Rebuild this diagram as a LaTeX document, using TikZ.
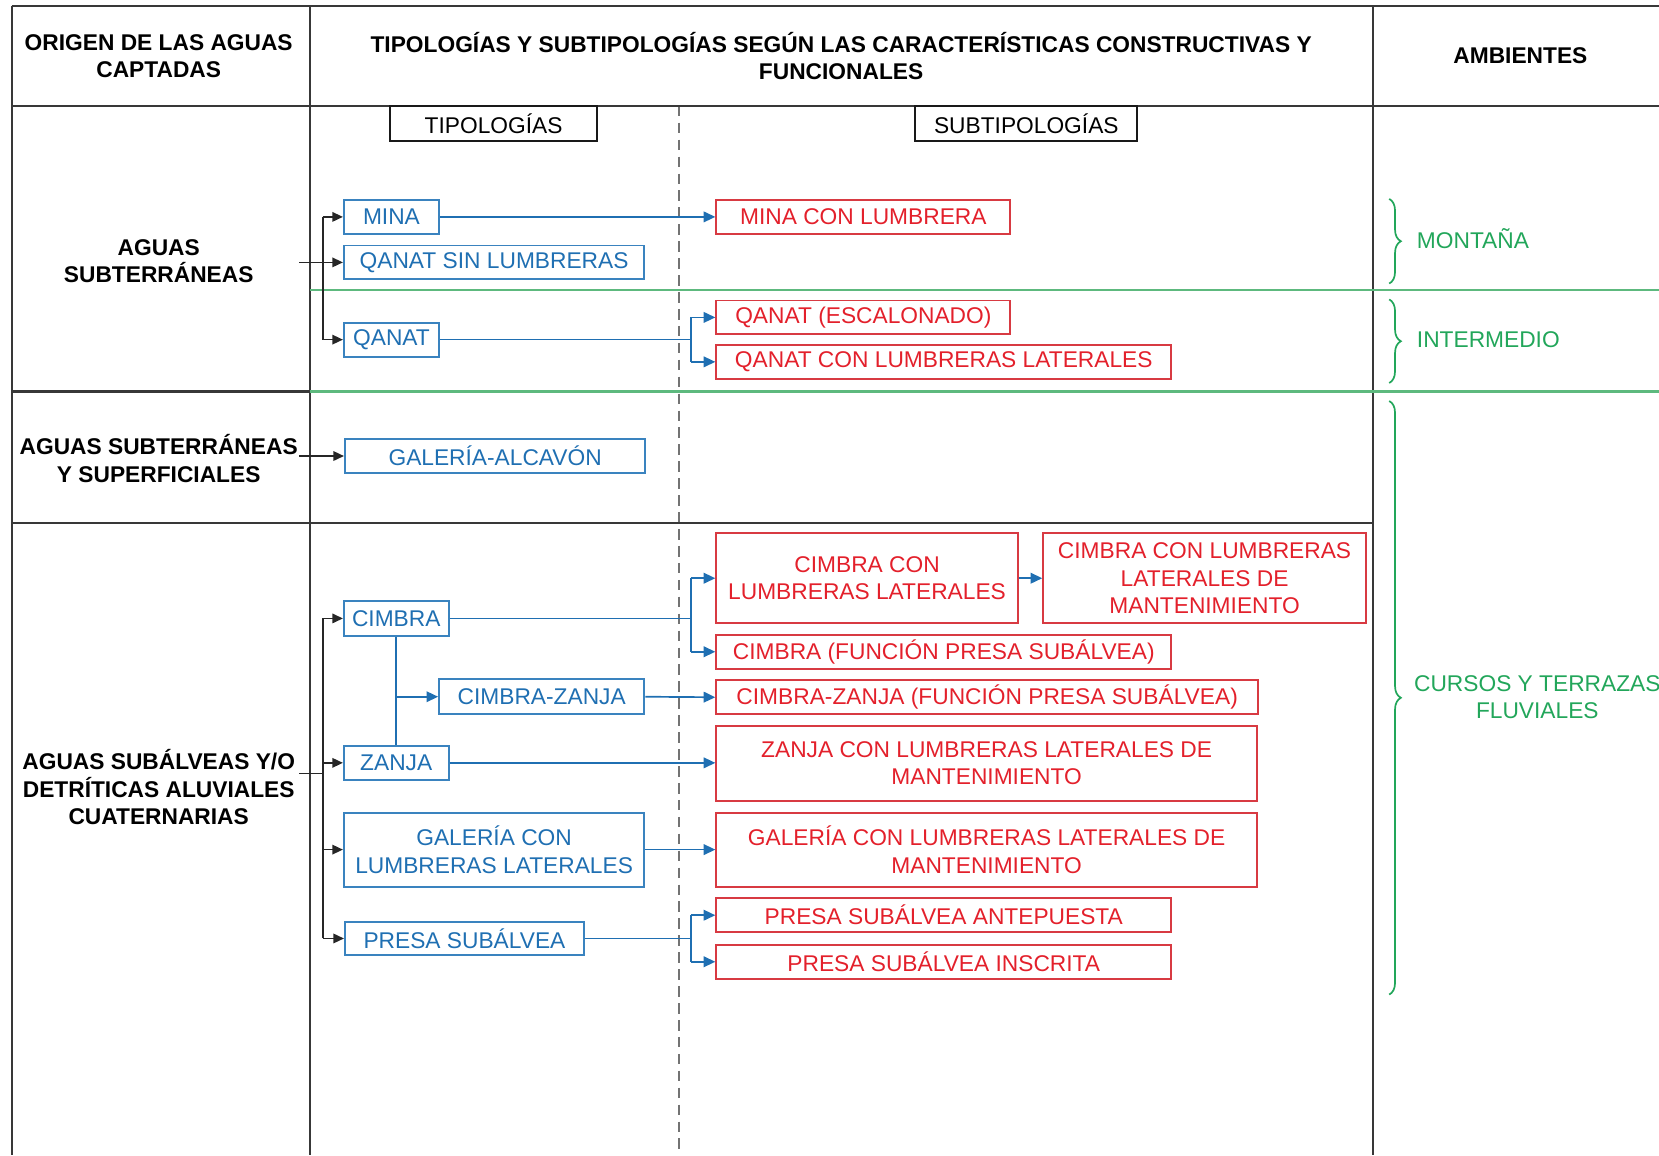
\documentclass[tikz,border=0pt]{standalone}
\usepackage{fontspec}
\setmainfont{Liberation Sans}
\usetikzlibrary{arrows.meta,decorations.pathreplacing,calc}
\definecolor{cblue}{HTML}{1F6FB2}
\definecolor{cbluebd}{HTML}{3A83BF}
\definecolor{cred}{HTML}{E3202B}
\definecolor{credbd}{HTML}{D83A42}
\definecolor{cgreen}{HTML}{22A65A}
\definecolor{cgline}{HTML}{5DB97E}
\definecolor{cframe}{HTML}{383838}
\begin{document}
\begin{tikzpicture}[x=1pt,y=-1pt,
 txt/.style={font=\fontsize{21.5}{26}\selectfont, inner sep=0pt},
 head/.style={inner sep=0pt, font=\fontsize{21.5}{26}\selectfont\bfseries, align=center, text=black},
 bbox/.style={txt, draw=cbluebd, line width=1.8pt, text=cblue, align=center},
 rbox/.style={txt, draw=credbd, line width=1.8pt, text=cred, align=center},
 lbox/.style={txt, draw=black!90, line width=1.8pt, align=center},
 frame/.style={draw=cframe, line width=2pt},
 gline/.style={draw=cgline, line width=2.3pt},
 kline/.style={draw=black!85, line width=1.6pt},
 karrow/.style={kline, -{Triangle[length=10pt,width=9pt]}},
 bline/.style={draw=cblue, line width=1.6pt},
 barrow/.style={bline, -{Triangle[length=11pt,width=10pt]}},
 gbrace/.style={draw=cgreen, line width=1.6pt, decorate, decoration={brace, amplitude=11pt}},
 gtxt/.style={txt, text=cgreen, align=center}
]
\useasboundingbox (0,0) rectangle (1568,1092);

% dashed separator
\draw[draw=black!55, line width=1.5pt, dash pattern=on 10pt off 6pt] (642,100) -- (642,1092);

% table frame
\draw[frame] (11,6) -- (1568,6);
\draw[frame] (11,100) -- (1568,100);
\draw[frame] (11,6) -- (11,1092);
\draw[frame] (293,6) -- (293,1092);
\draw[frame] (1298,6) -- (1298,1092);
\draw[frame] (11,370) -- (293,370);
\draw[frame] (11,494) -- (1298,494);
\draw[gline] (293,274) -- (1568,274);
\draw[gline] (293,370) -- (1568,370);

% headers
\node[head] (h1) at (150,53) {ORIGEN DE LAS AGUAS\\CAPTADAS};
\node[head] (h2) at (795,53) {TIPOLOGÍAS Y SUBTIPOLOGÍAS SEGÚN LAS CARACTERÍSTICAS CONSTRUCTIVAS Y\\FUNCIONALES};
\node[head] (h3) at (1437,53) {AMBIENTES};

\node[head] (o1) at (150,247) {AGUAS\\SUBTERRÁNEAS};
\node[head] (o2) at (150,433.5) {AGUAS SUBTERRÁNEAS\\Y SUPERFICIALES};
\node[head] (o3) at (150,744) {AGUAS SUBÁLVEAS Y/O\\DETRÍTICAS ALUVIALES\\CUATERNARIAS};

% label boxes
\node[lbox, minimum width=195pt, minimum height=33pt] (ltip) at (466.5,116.5) {TIPOLOGÍAS};
\node[lbox, minimum width=210pt, minimum height=33pt] (lsub) at (970,116.5) {SUBTIPOLOGÍAS};

% typology boxes
\node[bbox, minimum width=90pt, minimum height=32pt] (mina) at (370,205) {MINA};
\node[bbox, minimum width=284pt, minimum height=32pt] (qsl) at (467,248) {QANAT SIN LUMBRERAS};
\node[bbox, minimum width=90pt, minimum height=32pt] (qanat) at (370,321) {QANAT};
\node[bbox, minimum width=284pt, minimum height=32pt] (galc) at (468,431) {GALERÍA-ALCAVÓN};
\node[bbox, minimum width=99pt, minimum height=33pt] (cimbra) at (374.5,584.5) {CIMBRA};
\node[bbox, minimum width=194pt, minimum height=33pt] (cz) at (512,658.5) {CIMBRA-ZANJA};
\node[bbox, minimum width=99pt, minimum height=32pt] (zanja) at (374.5,721) {ZANJA};
\node[bbox, minimum width=284pt, minimum height=70pt] (gcl) at (467,803) {GALERÍA CON\\LUMBRERAS LATERALES};
\node[bbox, minimum width=226pt, minimum height=32pt] (presa) at (439,887) {PRESA SUBÁLVEA};

% subtypology boxes
\node[rbox, minimum width=278pt, minimum height=32pt] (mcl) at (816,205) {MINA CON LUMBRERA};
\node[rbox, minimum width=278pt, minimum height=32pt] (qesc) at (816,300) {QANAT (ESCALONADO)};
\node[rbox, minimum width=430pt, minimum height=32pt] (qcll) at (892,342) {QANAT CON LUMBRERAS LATERALES};
\node[rbox, minimum width=285pt, minimum height=85pt] (ccll) at (819.5,546.5) {CIMBRA CON\\LUMBRERAS LATERALES};
\node[rbox, minimum width=305pt, minimum height=85pt] (cclm) at (1138.5,546.5) {CIMBRA CON LUMBRERAS\\LATERALES DE\\MANTENIMIENTO};
\node[rbox, minimum width=430pt, minimum height=32pt] (cfps) at (892,616) {CIMBRA (FUNCIÓN PRESA SUBÁLVEA)};
\node[rbox, minimum width=512pt, minimum height=32pt] (czf) at (933,659) {CIMBRA-ZANJA (FUNCIÓN PRESA SUBÁLVEA)};
\node[rbox, minimum width=511pt, minimum height=71pt] (zclm) at (932.5,721.5) {ZANJA CON LUMBRERAS LATERALES DE\\MANTENIMIENTO};
\node[rbox, minimum width=511pt, minimum height=70pt] (gclm) at (932.5,803) {GALERÍA CON LUMBRERAS LATERALES DE\\MANTENIMIENTO};
\node[rbox, minimum width=430pt, minimum height=32pt] (psa) at (892,865) {PRESA SUBÁLVEA ANTEPUESTA};
\node[rbox, minimum width=430pt, minimum height=32pt] (psi) at (892,909) {PRESA SUBÁLVEA INSCRITA};

% environments
\draw[gbrace] (1313,188) -- (1313,268);
\draw[gbrace] (1313,283) -- (1313,362);
\draw[gbrace] (1313,379) -- (1313,940);
\node[gtxt, anchor=west] (mont) at (1339,226) {MONTAÑA};
\node[gtxt, anchor=west] (inter) at (1339,321) {INTERMEDIO};
\node[gtxt] (cursos) at (1453,659) {CURSOS Y TERRAZAS\\FLUVIALES};

% black connectors
\coordinate (k1) at (305,0);
\coordinate (s1) at (283,248);
\coordinate (s2) at (283,431);
\coordinate (s3) at (283,731);
\draw[kline] (mina.west -| k1) -- (qanat.west -| k1);
\draw[karrow] (mina.west -| k1) -- (mina.west);
\draw[karrow] (qanat.west -| k1) -- (qanat.west);
\draw[karrow] (s1) -- (qsl.west);
\draw[karrow] (s2) -- (galc.west);
\draw[kline] (s3) -- (s3 -| k1);
\draw[kline] (cimbra.west -| k1) -- (presa.west -| k1);
\draw[karrow] (cimbra.west -| k1) -- (cimbra.west);
\draw[karrow] (zanja.west -| k1) -- (zanja.west);
\draw[karrow] (gcl.west -| k1) -- (gcl.west);
\draw[karrow] (presa.west -| k1) -- (presa.west);

% blue connectors
\coordinate (bb) at (653,0);
\draw[barrow] (mina.east) -- (mcl.west);
\draw[bline] (qanat.east) -- (qanat.east -| bb);
\draw[bline] (qesc.west -| bb) -- (qcll.west -| bb);
\draw[barrow] (qesc.west -| bb) -- (qesc.west);
\draw[barrow] (qcll.west -| bb) -- (qcll.west);

\draw[bline] (cimbra.east) -- (cimbra.east -| bb);
\draw[bline] (ccll.west -| bb) -- (cfps.west -| bb);
\draw[barrow] (ccll.west -| bb) -- (ccll.west);
\draw[barrow] (cfps.west -| bb) -- (cfps.west);
\draw[barrow] (ccll.east) -- (cclm.west);

\draw[bline] (cimbra.south) -- (zanja.north);
\draw[barrow] (cimbra.south |- cz.west) -- (cz.west);
\draw[barrow] (cz.east) -- (czf.west);
\draw[barrow] (zanja.east) -- (zanja.east -| zclm.west);
\draw[barrow] (gcl.east) -- (gclm.west);

\draw[bline] (presa.east) -- (presa.east -| bb);
\draw[bline] (psa.west -| bb) -- (psi.west -| bb);
\draw[barrow] (psa.west -| bb) -- (psa.west);
\draw[barrow] (psi.west -| bb) -- (psi.west);
\end{tikzpicture}
\end{document}
